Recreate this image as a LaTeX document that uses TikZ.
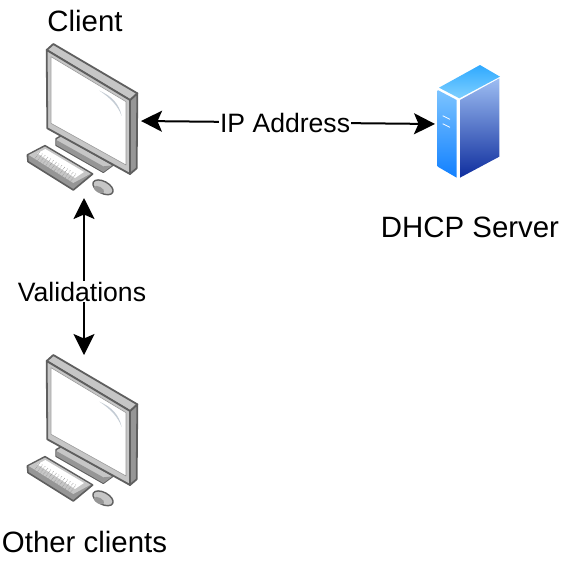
\documentclass[tikz,border=0pt]{standalone}
\usepackage{fontspec}
\setmainfont{Liberation Sans}
\usetikzlibrary{positioning,arrows.meta}
\definecolor{frameGrey}{HTML}{C6C6C6}
\definecolor{edgeGrey}{HTML}{5F5F5F}
\definecolor{sideGrey}{HTML}{969696}
\definecolor{glareGrey}{HTML}{C4CCD4}
\definecolor{topBlue}{HTML}{2FA9FF}
\definecolor{lowBlue}{HTML}{7FD0FF}
\definecolor{frontTop}{HTML}{7CC4FF}
\definecolor{frontLow}{HTML}{1180FF}
\definecolor{sideTop}{HTML}{9DBDF2}
\definecolor{sideLow}{HTML}{0F2E9E}
\tikzset{
  desktop/.pic={
    \begin{scope}[x=0.3333pt, y=-0.3333pt, line join=round]
    % stand
    \fill[frameGrey, draw=edgeGrey, line width=1.4pt] (108,326) -- (124,317) -- (280,405) -- (250,427) -- (108,346) -- cycle;
    \fill[sideGrey] (109,330) -- (250,409) -- (278,406) -- (250,426) -- (109,345) -- cycle;
    % monitor
    \fill[sideGrey, draw=edgeGrey, line width=1.8pt] (330,210) -- (352,190) -- (350,415) -- (330,432) -- cycle;
    \fill[frameGrey, draw=edgeGrey, line width=1.8pt] (80,60) -- (100,42) -- (352,190) -- (330,210) -- cycle;
    \fill[frameGrey, draw=edgeGrey, line width=1.8pt] (80,60) -- (330,210) -- (330,432) -- (82,295) -- cycle;
    \fill[white, draw=black!40, line width=0.6pt] (93,80) -- (318,215) -- (318,405) -- (93,280) -- cycle;
    \fill[glareGrey] (238,182) .. controls (275,198) and (298,222) .. (305,258) .. controls (294,228) and (272,204) .. (238,182) -- cycle;
    % keyboard
    \fill[sideGrey, draw=edgeGrey, line width=1.6pt] (22,375) -- (75,347) -- (218,432) -- (160,480) -- (24,395) -- cycle;
    \fill[frameGrey] (26,375) -- (75,350) -- (212,431) -- (160,459) -- cycle;
    \fill[white] (52,370) -- (76,357) -- (192,426) -- (165,444) -- cycle;
    \foreach \i in {0,...,13} {
      \foreach \j in {0,...,5} {
        \fill[black!38] ({58+\i*8.4-\j*2.8},{367+\i*5+\j*4}) circle (1.5);
      }
    }
    % mouse
    \fill[frameGrey, draw=edgeGrey, line width=1.4pt, rotate around={-28:(249,472)}] (249,472) ellipse (33 and 18);
    \fill[sideGrey, rotate around={-28:(237,479)}] (237,479) ellipse (17 and 9);
    \end{scope}
  },
  rackServer/.pic={
    \begin{scope}[x=0.3333pt, y=-0.3333pt]
    \shade[top color=topBlue, bottom color=lowBlue] (57,98) -- (180,30) -- (240,65) -- (118,130) -- cycle;
    \shade[top color=frontTop, bottom color=frontLow] (53,105) -- (110,135) -- (110,368) -- (53,335) -- cycle;
    \shade[top color=sideTop, bottom color=sideLow] (120,135) -- (238,70) -- (238,305) -- (120,368) -- cycle;
    \draw[white, line width=0.8pt] (68,182) -- (90,193);
    \draw[white, line width=0.8pt] (68,206) -- (90,217);
    \end{scope}
  },
}
\begin{document}
\begin{tikzpicture}[
    x=1pt, y=-1pt,
    iconBox/.style={minimum width=114pt, minimum height=154pt, inner sep=0pt, outer sep=0pt},
    serverBox/.style={minimum width=66pt, minimum height=116pt, inner sep=0pt, outer sep=0pt},
    link/.style={{Stealth[length=21pt, width=21pt, inset=4.5pt]}-{Stealth[length=21pt, width=21pt, inset=4.5pt]}, line width=2pt},
    bigTxt/.style={font=\fontsize{29.4pt}{32pt}\selectfont, inner sep=0pt},
    midTxt/.style={font=\fontsize{26.6pt}{30pt}\selectfont, fill=white, inner sep=1pt},
]
\useasboundingbox (0,0) rectangle (569,563);
\node[iconBox] (client) at (84,121) {};
\node[iconBox] (other) at (84,432) {};
\node[serverBox] (server) at (468,124) {};
\pic at (20,30) {desktop};
\pic at (20,341) {desktop};
\pic at (420,55) {rackServer};
\node[bigTxt] (clientTxt) at (85,21) {Client};
\node[bigTxt] (serverTxt) at (470,227) {DHCP Server};
\node[bigTxt] (otherTxt) at (84.5,542) {Other clients};
\draw[link] (client.east) -- node[midTxt, pos=0.49, yshift=-1pt] (addr) {IP Address} (server.west);
\draw[link] (client.south) -- node[midTxt, pos=0.59, xshift=-2pt, yshift=-1pt] (valid) {Validations} (other.north);
\end{tikzpicture}
\end{document}
